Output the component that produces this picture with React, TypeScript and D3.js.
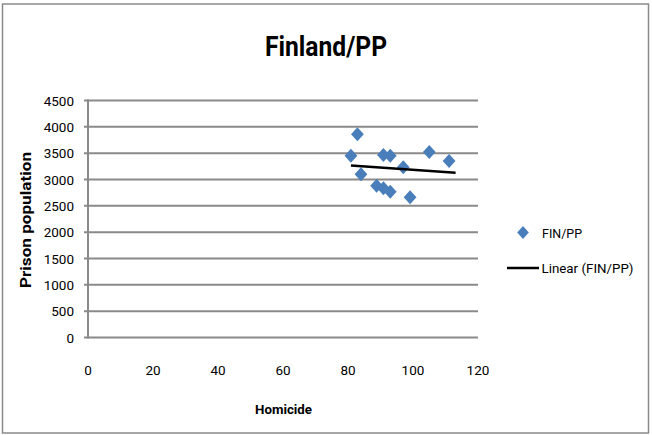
import React from "react";
import * as d3 from "d3";

const homicide = [82.9, 80.9, 84.0, 90.9, 93.0, 88.8, 90.9, 93.0, 97.0, 99.1, 105.0, 111.1];
const prison = [3858, 3452, 3099, 3465, 3452, 2882, 2833, 2768, 3231, 2662, 3522, 3351];
const yTicks = [0, 500, 1000, 1500, 2000, 2500, 3000, 3500, 4000, 4500];
const xTicks = [0, 20, 40, 60, 80, 100, 120];
const title = "Finland/PP";
const seriesName = "FIN/PP";
const trendName = "Linear (FIN/PP)";
const xTitle = "Homicide";
const yTitle = "Prison population";
const trendForward = 2;

const W = 652, H = 435;
const FONT = "Roboto, 'Open Sans', sans-serif";

export default function App() {
  const x = d3.scaleLinear().domain([0, 120]).range([88, 478]);
  const y = d3.scaleLinear().domain([0, 4500]).range([337.5, 100.5]);

  const mx = d3.mean(homicide)!;
  const my = d3.mean(prison)!;
  let sxy = 0, sxx = 0;
  homicide.forEach((v, i) => {
    sxy += (v - mx) * (prison[i] - my);
    sxx += (v - mx) * (v - mx);
  });
  const slope = sxy / sxx;
  const icpt = my - slope * mx;
  const x0 = d3.min(homicide)!;
  const x1 = d3.max(homicide)! + trendForward;
  const line = d3.line<number>().x((d) => x(d)).y((d) => y(icpt + slope * d));

  const diamond = (cx: number, cy: number, r = 7, rx = 6.4) =>
    `M${cx},${cy - r}L${cx + rx},${cy}L${cx},${cy + r}L${cx - rx},${cy}Z`;

  const blue = "#4A7EBB";
  const grid = "#8A8A8A";

  return (
    <svg width={W} height={H} style={{ position: "absolute", left: 0, top: 0 }}>
      <rect x={0} y={0} width={W} height={H} fill="#fff" />
      <rect x={2.5} y={4} width={646} height={429} fill="#fff" stroke="#8a8a8a" strokeWidth={1.5} />
      <text
        x={326}
        y={56}
        textAnchor="middle"
        fontFamily={FONT}
        fontWeight="bold"
        fontSize={27}
        fill="#000"
        textLength={122}
        lengthAdjust="spacingAndGlyphs"
      >
        {title}
      </text>
      {yTicks.map((t) => (
        <g key={t}>
          <line x1={84} x2={x(120)} y1={y(t)} y2={y(t)} stroke={grid} strokeWidth={2} />
          <text x={74} y={y(t) + 5} textAnchor="end" fontFamily={FONT} fontSize={13.5} fill="#000">
            {t}
          </text>
        </g>
      ))}
      <line x1={x(0)} x2={x(0)} y1={y(4500) - 1} y2={y(0) + 1} stroke={grid} strokeWidth={2} />
      {xTicks.map((t) => (
        <text key={t} x={x(t)} y={375} textAnchor="middle" fontFamily={FONT} fontSize={13.5} fill="#000">
          {t}
        </text>
      ))}
      <text
        x={283.5}
        y={414}
        textAnchor="middle"
        fontFamily={FONT}
        fontWeight="bold"
        fontSize={13.5}
        fill="#000"
        textLength={57}
        lengthAdjust="spacingAndGlyphs"
      >
        {xTitle}
      </text>
      <text
        transform={`translate(31,220) rotate(-90)`}
        textAnchor="middle"
        fontFamily={FONT}
        fontWeight="bold"
        fontSize={14}
        fill="#000"
        textLength={136}
        lengthAdjust="spacingAndGlyphs"
      >
        {yTitle}
      </text>
      {homicide.map((v, i) => (
        <path key={i} d={diamond(x(v), y(prison[i]))} fill={blue} />
      ))}
      <path d={line([x0, x1]) || ""} stroke="#000" strokeWidth={2.5} fill="none" />
      <path d={diamond(523, 232.5, 6.5, 5.8)} fill={blue} />
      <text x={542} y={237.5} fontFamily={FONT} fontSize={13.5} fill="#000" textLength={40} lengthAdjust="spacingAndGlyphs">
        {seriesName}
      </text>
      <line x1={507} x2={539} y1={268} y2={268} stroke="#000" strokeWidth={2.5} />
      <text x={541.5} y={273} fontFamily={FONT} fontSize={13.5} fill="#000" textLength={92} lengthAdjust="spacingAndGlyphs">
        {trendName}
      </text>
    </svg>
  );
}
